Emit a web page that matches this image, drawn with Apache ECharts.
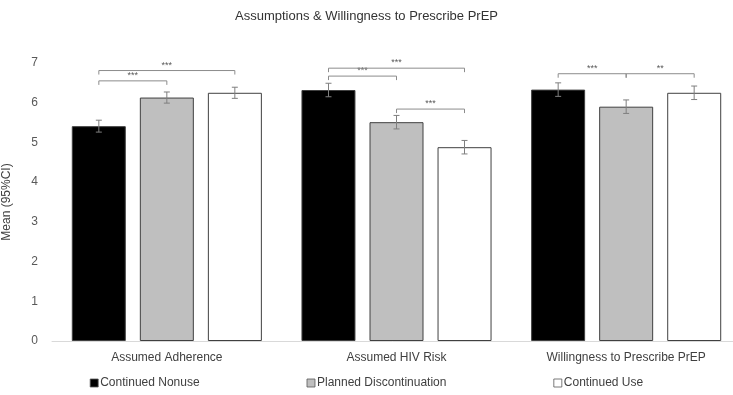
<!DOCTYPE html>
<html>
<head>
<meta charset="utf-8">
<script src="https://cdn.jsdelivr.net/npm/echarts@6/dist/echarts.min.js"></script>
<style>
  html, body { margin: 0; padding: 0; background: #fff; }
  #chart { width: 733px; height: 395px; }
</style>
</head>
<body>
<div id="chart"></div>
<script>
const categories = ['Assumed Adherence', 'Assumed HIV Risk', 'Willingness to Prescribe PrEP'];
const groupNames = ['Continued Nonuse', 'Planned Discontinuation', 'Continued Use'];

const nonuseMean = [5.41, 6.32, 6.33];
const plannedMean = [6.13, 5.51, 5.90];
const useMean = [6.25, 4.88, 6.25];

const nonuseCI = [0.15, 0.17, 0.17];
const plannedCI = [0.14, 0.17, 0.17];
const useCI = [0.14, 0.17, 0.17];

// [category, from group, to group, y, label]
const brackets = [
  [0, 0, 1, 6.55, '***'],
  [0, 0, 2, 6.81, '***'],
  [1, 0, 1, 6.67, '***'],
  [1, 0, 2, 6.87, '***'],
  [1, 1, 2, 5.84, '***'],
  [2, 0, 1, 6.73, '***'],
  [2, 1, 2, 6.73, '**']
];

const means = [nonuseMean, plannedMean, useMean];
const cis = [nonuseCI, plannedCI, useCI];
const fills = ['#000000', '#bfbfbf', '#ffffff'];

const barW = 54;
const step = 68; // bar width + gap

let errData = [];
means.forEach((m, g) => {
  m.forEach((v, c) => {
    errData.push([c, g, v - cis[g][c], v + cis[g][c]]);
  });
});

let chart = echarts.init(document.getElementById('chart'));

let series = groupNames.map((name, g) => ({
  name: name,
  type: 'bar',
  data: means[g],
  barWidth: barW,
  barGap: '26%',
  itemStyle: { color: fills[g], borderColor: '#404040', borderWidth: 1 }
}));

series.push({
  type: 'custom',
  name: 'ci',
  data: errData,
  encode: { x: 0, y: [2, 3] },
  z: 5,
  renderItem: function (params, api) {
    let c = api.coord([api.value(0), 0]);
    let x = c[0] + (api.value(1) - 1) * step;
    let lo = api.coord([api.value(0), api.value(2)])[1];
    let hi = api.coord([api.value(0), api.value(3)])[1];
    let st = { stroke: '#7f7f7f', lineWidth: 1 };
    return {
      type: 'group',
      children: [
        { type: 'line', shape: { x1: x, y1: lo, x2: x, y2: hi }, style: st },
        { type: 'line', shape: { x1: x - 3, y1: lo, x2: x + 3, y2: lo }, style: st },
        { type: 'line', shape: { x1: x - 3, y1: hi, x2: x + 3, y2: hi }, style: st }
      ]
    };
  }
});

series.push({
  type: 'custom',
  name: 'sig',
  data: brackets.map(b => [b[0], b[1], b[2], b[3]]),
  encode: { x: 0, y: 3 },
  z: 6,
  renderItem: function (params, api) {
    let c = api.coord([api.value(0), api.value(3)]);
    let x1 = c[0] + (api.value(1) - 1) * step;
    let x2 = c[0] + (api.value(2) - 1) * step;
    let y = c[1];
    let label = brackets[params.dataIndex][4];
    return {
      type: 'group',
      children: [
        {
          type: 'polyline',
          shape: { points: [[x1, y + 4], [x1, y], [x2, y], [x2, y + 4]] },
          style: { stroke: '#8c8c8c', lineWidth: 1, fill: null }
        },
        {
          type: 'text',
          style: {
            x: (x1 + x2) / 2, y: y - 1, text: label,
            align: 'center', verticalAlign: 'bottom',
            fill: '#595959', font: '9px "Liberation Sans"'
          }
        }
      ]
    };
  }
});

chart.setOption({
  animation: false,
  textStyle: { fontFamily: 'Liberation Sans' },
  title: {
    text: 'Assumptions & Willingness to Prescribe PrEP',
    left: 'center',
    top: 5,
    textStyle: { fontSize: 13, fontWeight: 'normal', color: '#333' }
  },
  legend: {
    data: groupNames,
    left: 'center',
    top: 372,
    itemGap: 107,
    itemWidth: 8,
    itemHeight: 8,
    icon: 'rect',
    itemStyle: { borderWidth: 0.8, borderColor: '#595959' },
    textStyle: { fontSize: 12, color: '#404040', padding: [0, 0, 0, -3] }
  },
  grid: { left: 52, top: 63, width: 689, height: 278, outerBoundsMode: 'none' },
  xAxis: {
    type: 'category',
    data: categories,
    axisTick: { show: false },
    axisLine: { lineStyle: { color: '#d9d9d9' } },
    axisLabel: { fontSize: 12, color: '#404040', margin: 11 }
  },
  yAxis: {
    type: 'value',
    min: 0,
    max: 7,
    interval: 1,
    name: 'Mean (95%CI)',
    nameLocation: 'middle',
    nameGap: 39,
    nameTextStyle: { fontSize: 12, color: '#404040' },
    splitLine: { show: false },
    axisLine: { show: false },
    axisLabel: { fontSize: 12, color: '#595959', margin: 14 }
  },
  series: series
});
</script>
</body>
</html>
